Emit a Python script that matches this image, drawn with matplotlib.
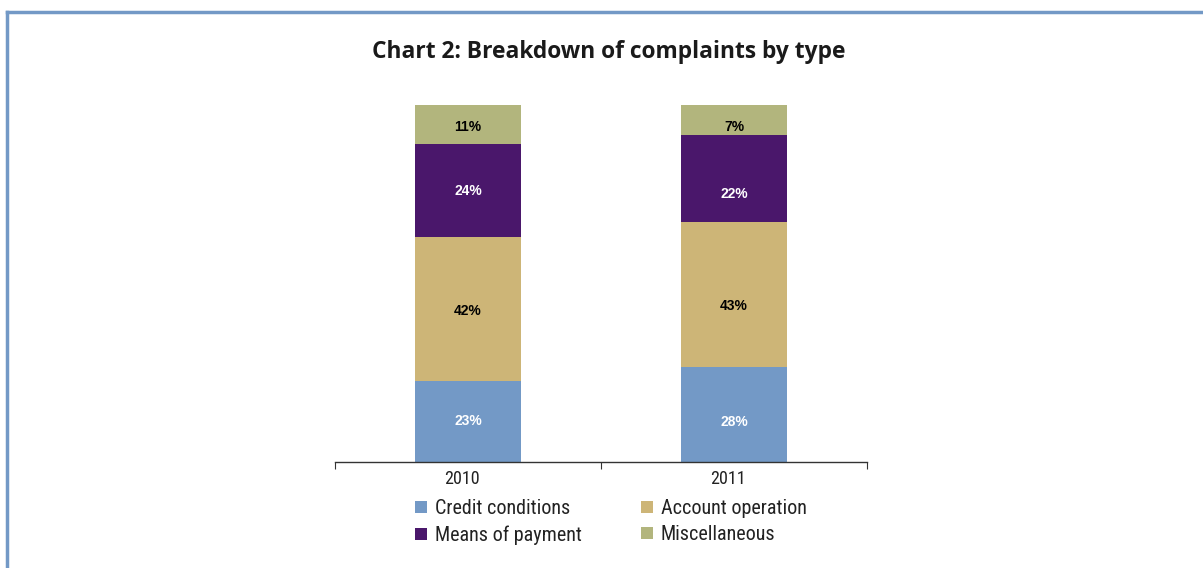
import matplotlib.pyplot as plt
import numpy as np
from matplotlib import font_manager
from matplotlib.lines import Line2D
from matplotlib.patches import Patch
from matplotlib.transforms import ScaledTranslation

years = ['2010', '2011']
categories = ['Credit conditions', 'Account operation', 'Means of payment', 'Miscellaneous']
# segment heights as drawn (%)
credit = np.array([22.7, 26.5])
account = np.array([40.3, 40.6])
means = np.array([26.2, 24.6])
misc = np.array([10.8, 8.3])
# printed labels
credit_lbl = ['23%', '28%']
account_lbl = ['42%', '43%']
means_lbl = ['24%', '22%']
misc_lbl = ['11%', '7%']

colors = ['#7399c6', '#cdb577', '#4a176b', '#b2b57d']
label_colors = ['white', 'black', 'white', 'black']
# the original labels do not sit exactly at segment centres (points, downwards)
label_drop = [[0, 5], [1.5, 8], [0.5, 10.8], [2, 5.4]]

names = {f.name for f in font_manager.fontManager.ttflist}
narrow = [n for n in ['Roboto Condensed', 'Open Sans Condensed', 'Liberation Sans Narrow'] if n in names] + ['Roboto']

fig = plt.figure(figsize=(12.03, 5.68), dpi=100)
ax = fig.add_axes([0.2785, 0.1866, 0.4422, 0.6285])

x = np.arange(len(years))
series = [credit, account, means, misc]
labels = [credit_lbl, account_lbl, means_lbl, misc_lbl]
bottom = np.zeros(len(years))
for vals, lbls, c, lc, drops in zip(series, labels, colors, label_colors, label_drop):
    ax.bar(x, vals, bottom=bottom, width=0.4, color=c, edgecolor='none')
    for xi, v, bt, t, d in zip(x, vals, bottom, lbls, drops):
        ax.annotate(t, (xi, bt + v / 2), xytext=(0, -d), textcoords='offset points',
                    ha='center', va='center', color=lc,
                    fontsize=10, fontweight='bold', family='Liberation Sans')
    bottom += vals

ax.set_xlim(-0.5, 1.5)
ax.set_ylim(0, 100)
ax.set_yticks([])
for s in ['top', 'right', 'left']:
    ax.spines[s].set_visible(False)
ax.spines['bottom'].set_color('#333333')
ax.spines['bottom'].set_linewidth(1)
ax.set_xticks([-0.5, 0.5, 1.5])
ax.set_xticklabels([])
ax.tick_params(axis='x', which='major', length=5, direction='out', color='#333333')
ax.set_xticks(x, minor=True)
ax.set_xticklabels(years, minor=True, fontsize=13, family=narrow, color='#222222')
ax.tick_params(axis='x', which='minor', length=0, pad=6)
for lbl in ax.get_xticklabels(minor=True):
    lbl.set_transform(lbl.get_transform() + ScaledTranslation(-0.06, 0, fig.dpi_scale_trans))

fig.text(0.506, 0.908, 'Chart 2: Breakdown of complaints by type', ha='center', va='center',
         fontsize=16.4, fontweight='bold', family='Open Sans', color='#1a1a1a')

order = [0, 2, 1, 3]
handles = [Patch(facecolor=colors[i], edgecolor='none') for i in order]
fig.legend(handles, [categories[i] for i in order], ncol=2, loc='center',
           bbox_to_anchor=(0.5075, 0.0812), frameon=False,
           prop={'family': narrow, 'size': 14.5}, handlelength=0.6, handleheight=0.55,
           columnspacing=2.93, handletextpad=0.4, labelspacing=0.38, labelcolor='#222222',
           borderpad=0)

# frame around the chart
fig.add_artist(Line2D([7 / 1203, 1], [1 - 12 / 568, 1 - 12 / 568], color='#7399c6', lw=2.5,
                      transform=fig.transFigure))
fig.add_artist(Line2D([7 / 1203, 7 / 1203], [0, 1 - 12 / 568], color='#7399c6', lw=2.5,
                      transform=fig.transFigure))

fig.savefig('out.png', dpi=100)
